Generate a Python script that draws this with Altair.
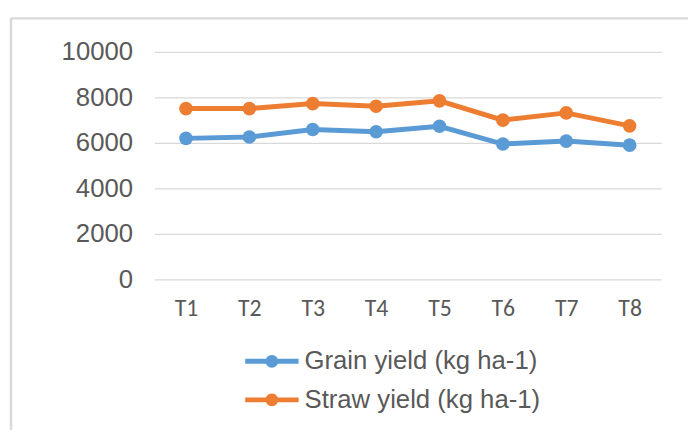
import altair as alt
import pandas as pd

treatments = ["T1", "T2", "T3", "T4", "T5", "T6", "T7", "T8"]
grain = [6200, 6260, 6590, 6490, 6730, 5950, 6080, 5900]
straw = [7510, 7510, 7730, 7610, 7850, 7000, 7320, 6750]
series_names = ["Grain yield (kg ha-1)", "Straw yield (kg ha-1)"]
series_colors = ["#5B9BD5", "#ED7D31"]
y_ticks = [0, 2000, 4000, 6000, 8000, 10000]

rows = []
for name, vals in zip(series_names, [grain, straw]):
    for t, v in zip(treatments, vals):
        rows.append({"Treatment": t, "Series": name, "Yield": v})
df = pd.DataFrame(rows)

x_enc = alt.X("Treatment:N", sort=treatments,
              scale=alt.Scale(type="point", padding=0.5),
              axis=alt.Axis(title=None, domain=False, ticks=False, grid=False,
                            labelAngle=0, labelFontSize=24, labelColor="#595959",
                            labelFont="Carlito, Liberation Sans",
                            labelPadding=18))
y_enc = alt.Y("Yield:Q", scale=alt.Scale(domain=[0, 10000]),
              axis=alt.Axis(title=None, values=y_ticks, format="d", domain=False, ticks=False,
                            grid=True, gridColor="#D9D9D9", gridWidth=1.3,
                            labelFontSize=26, labelColor="#595959",
                            labelFont="Liberation Sans", labelPadding=22))

sym_path = ("M-2.7,-0.25 L2.7,-0.25 L2.7,0.25 L-2.7,0.25 Z "
            "M0.65,0 A0.65,0.65 0 1,1 -0.65,0 A0.65,0.65 0 1,1 0.65,0 Z")

lines = alt.Chart(df).mark_line(strokeWidth=5).encode(
    x=x_enc, y=y_enc,
    stroke=alt.Stroke("Series:N", sort=series_names,
                      scale=alt.Scale(domain=series_names, range=series_colors),
                      legend=None),
)

points = alt.Chart(df).mark_circle(size=190, opacity=1).encode(
    x=x_enc, y=y_enc,
    fill=alt.Fill("Series:N", sort=series_names,
                  scale=alt.Scale(domain=series_names, range=series_colors),
                  legend=alt.Legend(title=None, orient="none", legendX=106, legendY=300,
                                    symbolType=sym_path, symbolSize=400,
                                    symbolStrokeWidth=0, symbolOpacity=1,
                                    labelFontSize=26, labelColor="#595959",
                                    labelFont="Liberation Sans", labelOffset=20,
                                    labelLimit=0, rowPadding=13, padding=0)),
)

border = pd.DataFrame({"k": [0]})
top_rule = alt.Chart(border).mark_rule(color="#D9D9D9", strokeWidth=2.5).encode(
    x=alt.value(-145), x2=alt.value(560), y=alt.value(-34))
left_rule = alt.Chart(border).mark_rule(color="#D9D9D9", strokeWidth=2.5).encode(
    x=alt.value(-145), y=alt.value(-34), y2=alt.value(400))

chart = alt.layer(top_rule, left_rule, lines, points).properties(
    width=513, height=230,
    padding={"left": 148, "top": 42, "right": 27, "bottom": 150},
    autosize=alt.AutoSizeParams(type="none"),
).configure_view(stroke=None).resolve_scale(fill="independent", stroke="independent")

chart.save("out.html", embed_options={"renderer": "svg", "actions": False})
